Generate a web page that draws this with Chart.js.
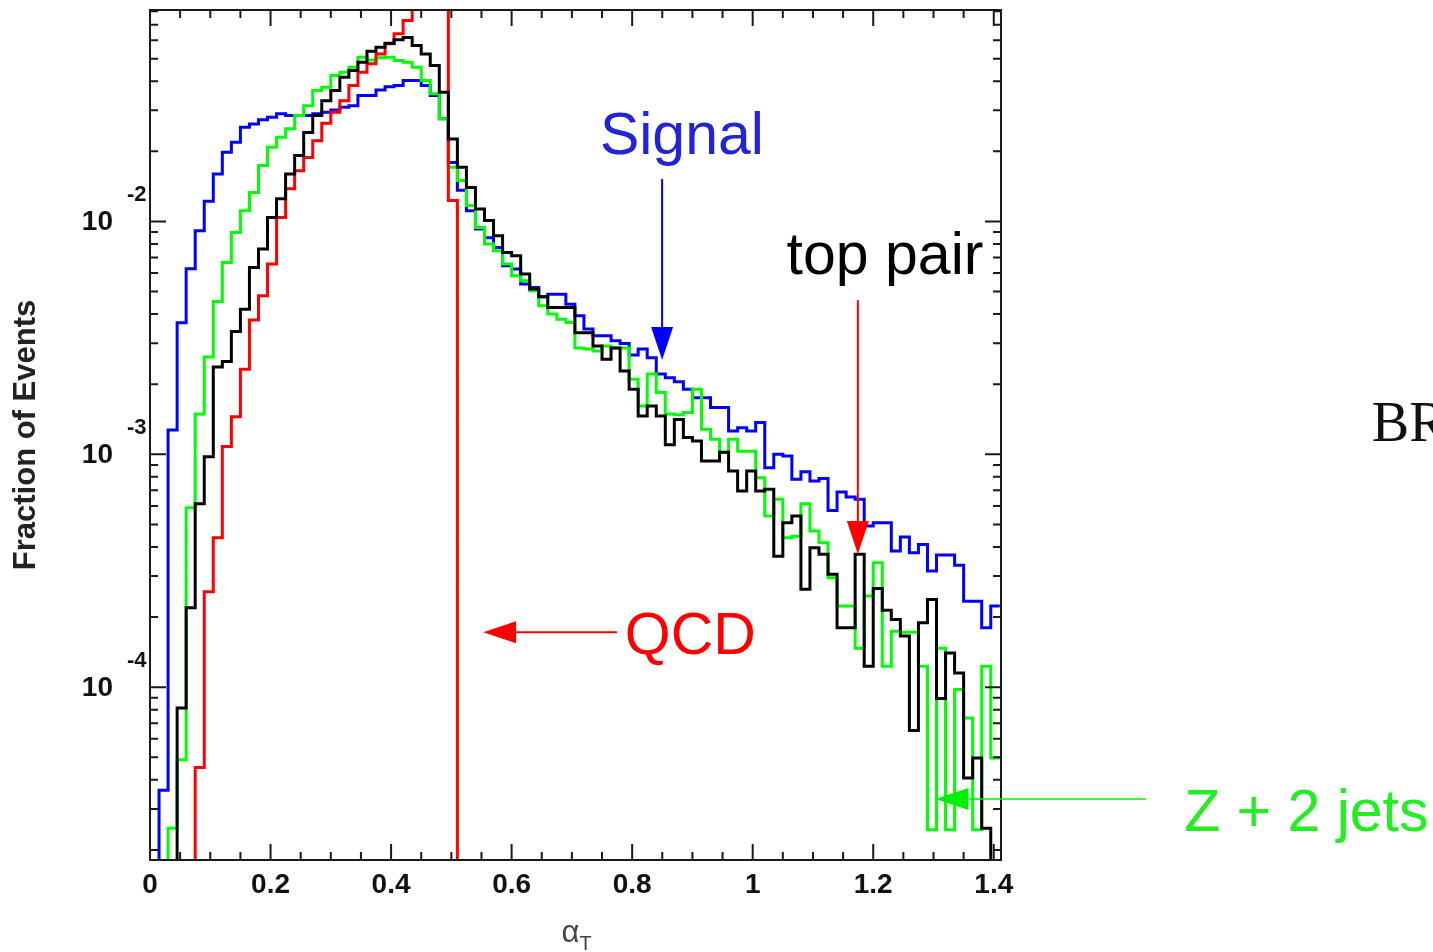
<!DOCTYPE html>
<html>
<head>
<meta charset="utf-8">
<script src="https://cdn.jsdelivr.net/npm/chart.js@4.4.0/dist/chart.umd.min.js"></script>
<style>
  html, body { margin: 0; padding: 0; background: #fff; }
</style>
</head>
<body>
<canvas id="chart-1" width="1433" height="952"></canvas>
<script>
// histogram bins: width 0.015 in alpha_T, values are fraction of events per bin (0 = below axis)
const binWidth = 0.015;
const xTicks = [0, 0.2, 0.4, 0.6, 0.8, 1, 1.2, 1.4];
const yDecades = [1e-2, 1e-3, 1e-4];
const yExponents = ['-2', '-3', '-4'];

const signal = [
  0, 3.61e-5, 1.27e-3, 3.67e-3, 6.26e-3, 9.12e-3, 0.0122, 0.0160, 0.0198, 0.0219,
  0.0254, 0.0262, 0.0273, 0.0280, 0.0290, 0.0285, 0.0285, 0.0285, 0.0290, 0.0294,
  0.0301, 0.0309, 0.0314, 0.0347, 0.0347, 0.0367, 0.0379, 0.0383, 0.0403, 0.0403,
  0.0383, 0.0347, 0.0276, 0.0179, 0.0136, 0.0111, 9.28e-3, 8.51e-3, 7.73e-3, 6.45e-3,
  6.24e-3, 5.38e-3, 5.20e-3, 4.75e-3, 4.87e-3, 4.87e-3, 4.41e-3, 3.93e-3, 3.45e-3, 3.23e-3,
  3.23e-3, 3.07e-3, 2.99e-3, 2.67e-3, 2.83e-3, 2.60e-3, 2.21e-3, 2.13e-3, 2.05e-3, 1.90e-3,
  1.75e-3, 1.75e-3, 1.59e-3, 1.59e-3, 1.26e-3, 1.30e-3, 1.26e-3, 1.37e-3, 8.76e-4, 1.00e-3,
  9.83e-4, 7.81e-4, 8.42e-4, 7.68e-4, 7.88e-4, 5.74e-4, 6.88e-4, 6.55e-4, 6.41e-4, 4.92e-4,
  5.08e-4, 5.08e-4, 3.84e-4, 4.41e-4, 3.78e-4, 4.10e-4, 3.15e-4, 3.69e-4, 3.69e-4, 3.34e-4,
  2.34e-4, 2.34e-4, 1.80e-4, 2.23e-4
];

const topPair = [
  0, 0, 0, 8.14e-5, 2.19e-4, 6.13e-4, 9.77e-4, 2.37e-3, 2.50e-3, 3.37e-3,
  4.20e-3, 6.34e-3, 7.61e-3, 0.0104, 0.0125, 0.0160, 0.0192, 0.0241, 0.0285, 0.0330,
  0.0365, 0.0416, 0.0445, 0.0483, 0.0538, 0.0560, 0.0583, 0.0603, 0.0616, 0.0569,
  0.0524, 0.0467, 0.0359, 0.0226, 0.0171, 0.0140, 0.0113, 0.0101, 8.68e-3, 7.36e-3,
  7.12e-3, 5.94e-3, 5.12e-3, 4.75e-3, 4.27e-3, 4.27e-3, 4.27e-3, 3.33e-3, 3.33e-3, 2.92e-3,
  2.56e-3, 2.86e-3, 2.28e-3, 1.90e-3, 1.46e-3, 1.61e-3, 1.46e-3, 1.10e-3, 1.41e-3, 1.18e-3,
  1.14e-3, 9.36e-4, 9.36e-4, 1.02e-3, 8.48e-4, 6.95e-4, 8.48e-4, 6.95e-4, 7.07e-4, 3.65e-4,
  5.08e-4, 5.43e-4, 2.63e-4, 3.97e-4, 3.72e-4, 3.05e-4, 1.80e-4, 1.80e-4, 3.72e-4, 1.23e-4,
  2.65e-4, 2.14e-4, 1.95e-4, 1.66e-4, 6.51e-5, 1.89e-4, 2.38e-4, 8.93e-5, 1.40e-4, 1.15e-4,
  4.07e-5, 4.96e-5, 2.48e-5, 0
];

const zJets = [
  0, 0, 2.48e-5, 4.88e-5, 5.89e-4, 1.49e-3, 2.62e-3, 4.53e-3, 6.66e-3, 8.97e-3,
  0.0111, 0.0133, 0.0174, 0.0208, 0.0230, 0.0250, 0.0285, 0.0314, 0.0365, 0.0377,
  0.0423, 0.0437, 0.0459, 0.0507, 0.0494, 0.0504, 0.0507, 0.0491, 0.0483, 0.0459,
  0.0403, 0.0353, 0.0276, 0.0171, 0.0150, 0.0117, 9.42e-3, 7.99e-3, 7.48e-3, 6.56e-3,
  5.84e-3, 5.56e-3, 5.04e-3, 4.34e-3, 4.00e-3, 3.80e-3, 3.68e-3, 2.86e-3, 2.83e-3, 2.78e-3,
  2.92e-3, 2.86e-3, 2.86e-3, 2.10e-3, 1.61e-3, 2.21e-3, 1.84e-3, 1.49e-3, 1.48e-3, 1.51e-3,
  1.90e-3, 1.28e-3, 1.16e-3, 1.02e-3, 1.16e-3, 1.03e-3, 1.03e-3, 7.93e-4, 5.43e-4, 6.41e-4,
  4.38e-4, 4.45e-4, 6.13e-4, 4.68e-4, 4.17e-4, 2.95e-4, 2.23e-4, 2.23e-4, 1.47e-4, 2.46e-4,
  3.42e-4, 1.23e-4, 1.74e-4, 1.72e-4, 1.72e-4, 1.23e-4, 2.44e-5, 1.47e-4, 2.44e-5, 9.77e-5,
  7.37e-5, 2.44e-5, 1.23e-4, 4.96e-5
];

const qcd = [
  0, 0, 0, 0, 0, 4.52e-5, 2.57e-4, 4.38e-4, 1.08e-3, 1.45e-3,
  2.32e-3, 3.77e-3, 4.79e-3, 6.56e-3, 0.0104, 0.0138, 0.0165, 0.0188, 0.0222, 0.0264,
  0.0294, 0.0330, 0.0383, 0.0437, 0.0475, 0.0524, 0.0579, 0.0639, 0.0729, 0.085,
  0.10, 0.115, 0.13, 0.0123, 0
];

// text labels and arrows, placed in data coordinates
const notes = [
  { text: 'Signal', at: [0.7465, 0.01945], color: '#2323dc' },
  { text: 'top pair', at: [1.0563, 0.00596], color: '#000000' },
  { text: 'QCD', at: [0.7879, 1.385e-4], color: '#ff0000' },
  { text: 'Z + 2 jets', at: [1.7159, 2.40e-5], color: '#22ee22' }
];
const arrows = [
  { from: [0.8497, 0.0152], to: [0.8497, 0.00254], color: '#0000ff', width: 2 },
  { from: [1.1745, 0.00459], to: [1.1745, 3.73e-4], color: '#ff0000', width: 2 },
  { from: [0.7747, 1.72e-4], to: [0.5526, 1.72e-4], color: '#ff0000', width: 2 },
  { from: [1.6529, 3.31e-5], to: [1.3033, 3.31e-5], color: '#00ee00', width: 1.5 }
];

const yFloor = 1e-6; // empty bins drawn below the axis

function makeSteps(values) {
  const pts = values.map((v, i) => ({ x: i * binWidth, y: v > 0 ? v : yFloor }));
  const last = values[values.length - 1];
  pts.push({ x: values.length * binWidth, y: last > 0 ? last : yFloor });
  return pts;
}

function histo(values, color) {
  return {
    data: makeSteps(values),
    borderColor: color,
    borderWidth: 3,
    stepped: true,
    pointRadius: 0,
    fill: false,
    borderJoinStyle: 'miter'
  };
}

const frame = {
  id: 'frame',
  afterDatasetsDraw(chart) {
    const { ctx, chartArea: a, scales: { x, y } } = chart;
    ctx.save();
    ctx.strokeStyle = '#1a1a1a';
    ctx.lineWidth = 2;
    ctx.beginPath();
    for (let i = 0; i <= 28; i++) {
      const px = x.getPixelForValue(i * 0.05);
      const len = i % 4 === 0 ? 16 : 8;
      ctx.moveTo(px, a.bottom); ctx.lineTo(px, a.bottom - len);
      ctx.moveTo(px, a.top); ctx.lineTo(px, a.top + len);
    }
    for (let e = -5; e <= -1; e++) {
      for (let m = 1; m <= 9; m++) {
        const v = m * Math.pow(10, e);
        if (v < y.min || v > y.max) continue;
        const py = y.getPixelForValue(v);
        const len = m === 1 ? 16 : 8;
        ctx.moveTo(a.left, py); ctx.lineTo(a.left + len, py);
        ctx.moveTo(a.right, py); ctx.lineTo(a.right - len, py);
      }
    }
    ctx.stroke();
    ctx.strokeRect(a.left, a.top, a.right - a.left, a.bottom - a.top);

    // y tick labels 10^-n
    ctx.fillStyle = '#111';
    ctx.textBaseline = 'middle';
    yDecades.forEach((v, i) => {
      const py = y.getPixelForValue(v);
      ctx.font = 'bold 28px "Liberation Sans", Arial, sans-serif';
      ctx.textAlign = 'right';
      ctx.fillText('10', a.left - 37, py + 1);
      ctx.font = 'bold 22px "Liberation Sans", Arial, sans-serif';
      ctx.textAlign = 'left';
      ctx.fillText(yExponents[i], a.left - 23, py - 26);
    });

    // x axis title alpha_T
    const cx = (a.left + a.right) / 2;
    ctx.fillStyle = '#444';
    ctx.textBaseline = 'alphabetic';
    ctx.textAlign = 'right';
    ctx.font = '31px "Liberation Sans", Arial, sans-serif';
    ctx.fillText('\u03b1', cx + 4, 942);
    ctx.textAlign = 'left';
    ctx.font = '20px "Liberation Sans", Arial, sans-serif';
    ctx.fillText('T', cx + 4, 950);
    ctx.restore();
  },
  afterDraw(chart) {
    const { ctx, scales: { x, y } } = chart;
    ctx.save();
    arrows.forEach(ar => {
      const x0 = x.getPixelForValue(ar.from[0]), y0 = y.getPixelForValue(ar.from[1]);
      const x1 = x.getPixelForValue(ar.to[0]), y1 = y.getPixelForValue(ar.to[1]);
      const ang = Math.atan2(y1 - y0, x1 - x0);
      const hl = 33, hw = 11;
      const bx = x1 - hl * Math.cos(ang), by = y1 - hl * Math.sin(ang);
      ctx.strokeStyle = ar.color;
      ctx.fillStyle = ar.color;
      ctx.lineWidth = ar.width;
      ctx.beginPath();
      ctx.moveTo(x0, y0); ctx.lineTo(bx, by);
      ctx.stroke();
      ctx.beginPath();
      ctx.moveTo(x1, y1);
      ctx.lineTo(bx - hw * Math.sin(ang), by + hw * Math.cos(ang));
      ctx.lineTo(bx + hw * Math.sin(ang), by - hw * Math.cos(ang));
      ctx.closePath();
      ctx.fill();
    });
    ctx.font = '59px "Liberation Sans", Arial, sans-serif';
    ctx.textAlign = 'left';
    ctx.textBaseline = 'alphabetic';
    notes.forEach(n => {
      ctx.fillStyle = n.color;
      ctx.fillText(n.text, x.getPixelForValue(n.at[0]), y.getPixelForValue(n.at[1]));
    });
    // cut-off text at the right edge of the page
    ctx.fillStyle = '#111';
    ctx.font = '56px "Liberation Serif", "Times New Roman", serif';
    ctx.fillText('BR', x.getPixelForValue(2.0273), y.getPixelForValue(1.14e-3));
    ctx.restore();
  }
};

const ctx = document.getElementById('chart-1').getContext('2d');
new Chart(ctx, {
  type: 'line',
  data: {
    datasets: [
      histo(topPair, '#000000'),
      histo(qcd, '#ff0000'),
      histo(zJets, '#00ff00'),
      histo(signal, '#0000ff')
    ]
  },
  options: {
    responsive: false,
    animation: false,
    devicePixelRatio: 1,
    layout: { padding: { top: 10, right: 432, bottom: 0, left: 0 } },
    plugins: {
      legend: { display: false },
      tooltip: { enabled: false }
    },
    scales: {
      x: {
        type: 'linear',
        min: 0,
        max: 1.412,
        grid: { display: false, drawTicks: false },
        border: { display: false },
        afterBuildTicks: s => { s.ticks = xTicks.map(v => ({ value: v })); },
        afterFit: s => { s.height = 92; },
        ticks: {
          autoSkip: false,
          maxRotation: 0,
          padding: 8,
          color: '#111',
          callback: v => String(v),
          font: { family: '"Liberation Sans", Arial, sans-serif', size: 28, weight: 'bold' }
        }
      },
      y: {
        type: 'logarithmic',
        min: 1.81e-5,
        max: 0.0809,
        grid: { display: false, drawTicks: false },
        border: { display: false },
        ticks: { display: false },
        afterFit: s => { s.width = 150; },
        title: {
          display: true,
          text: 'Fraction of Events',
          color: '#222',
          padding: { top: 8 },
          font: { family: '"Liberation Sans", Arial, sans-serif', size: 31, weight: 'bold' }
        }
      }
    }
  },
  plugins: [frame]
});
</script>
</body>
</html>
